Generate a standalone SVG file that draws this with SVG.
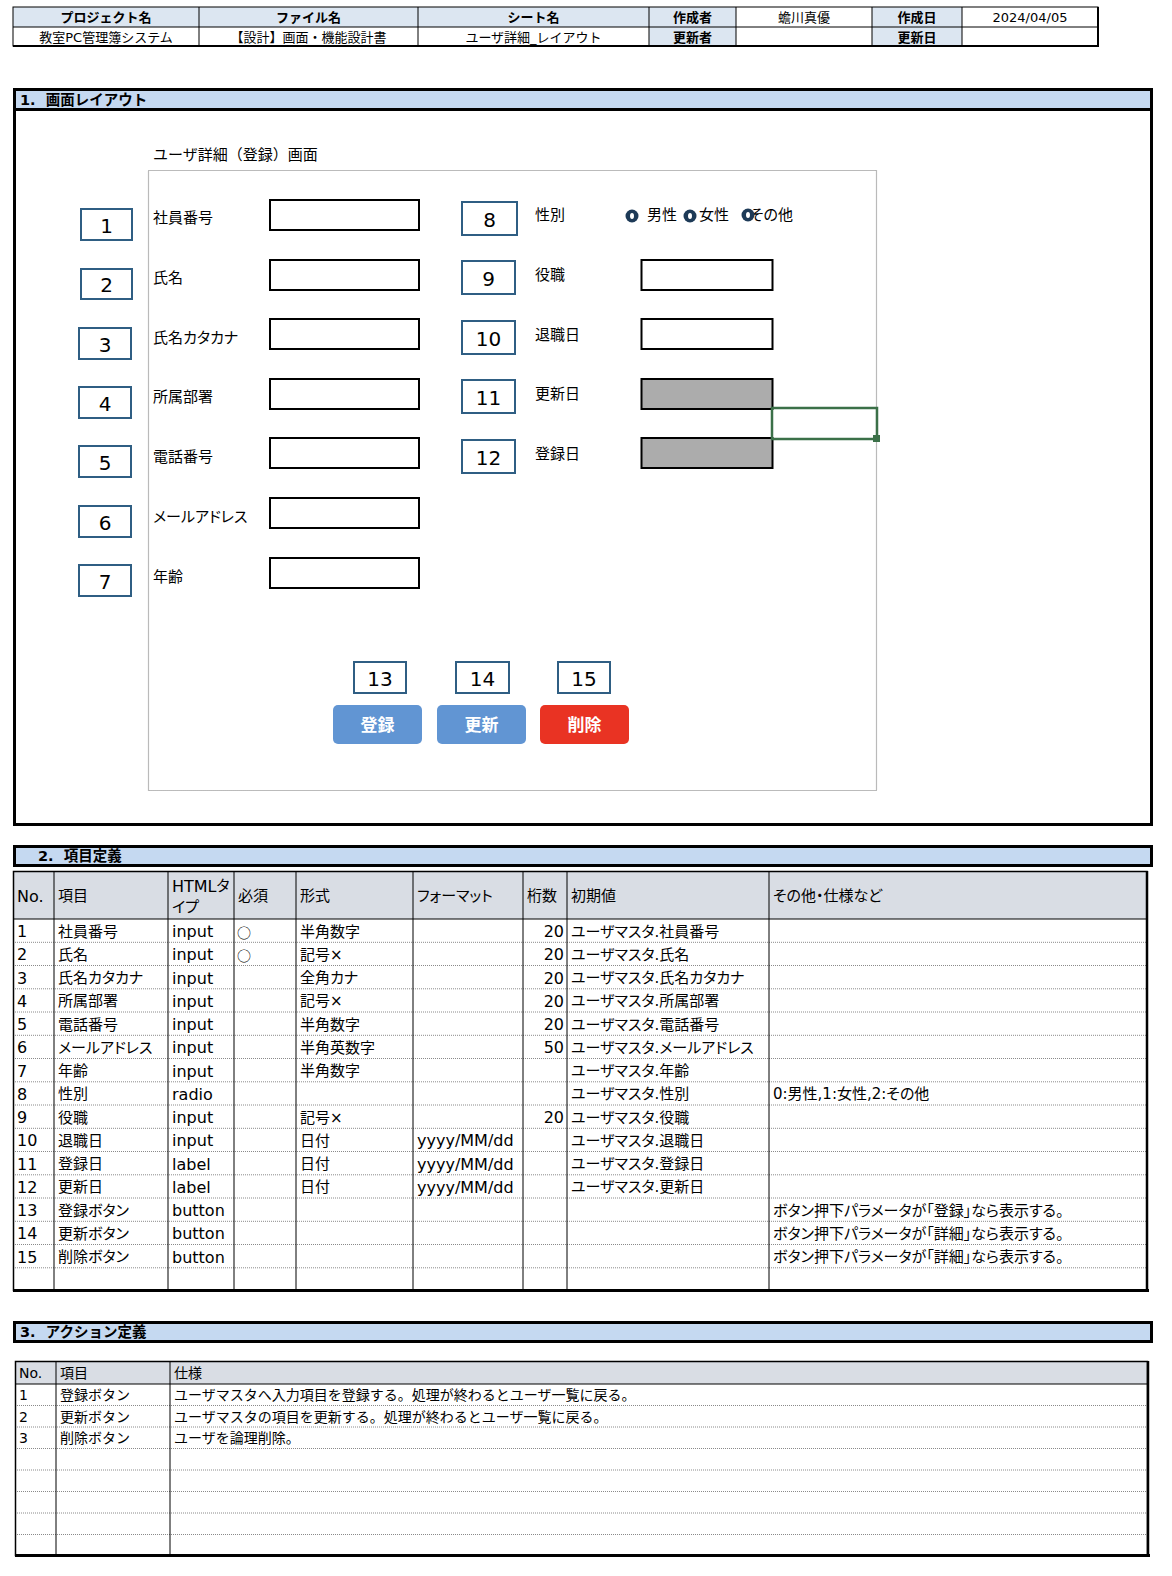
<svg xmlns="http://www.w3.org/2000/svg" width="1172" height="1576" viewBox="0 0 1172 1576">
<style>
text{font-family:"DejaVu Sans","Noto Sans CJK JP",sans-serif;fill:#000;dominant-baseline:central}
.h{font-size:13px}
.hb{font-size:13px;font-weight:bold}
.sec{font-size:14.5px;font-weight:bold}
.lbl{font-size:15px;font-feature-settings:"palt"}
.ttl{font-size:15px}
.num{font-size:20px;text-anchor:middle}
.btn{font-size:17px;font-weight:bold;fill:#fff;text-anchor:middle}
.t2 text{font-size:15px;font-feature-settings:"palt"}
.t2 text.lat{font-size:16px}
.t2 text.mk{font-family:"Noto Sans CJK JP",sans-serif;font-size:14px}
.t3 text{font-size:14px}
.c{text-anchor:middle}
.t2 text.r{text-anchor:end}
.grid{stroke:#000;stroke-width:1;fill:none}
.dot{stroke:#8a8a8a;stroke-width:1;stroke-dasharray:1 1;fill:none}
.nbox{fill:#fff;stroke:#2f5e83;stroke-width:2}
.inp{fill:#fff;stroke:#000;stroke-width:2}
.inpg{fill:#acacac;stroke:#000;stroke-width:2}
.bar{fill:#c5d9f1;stroke:#000;stroke-width:3}
.hfill{fill:#dce6f1}
.thfill{fill:#d9dde4}
.radio{fill:#1d3a57}
</style>

<!-- Header info table -->
<g id="header-table">
  <rect x="13" y="7" width="636" height="20" class="hfill"/>
  <rect x="649" y="7" width="87" height="39" class="hfill"/>
  <rect x="872" y="7" width="90" height="39" class="hfill"/>
  <rect x="13" y="7" width="1085" height="39" class="grid"/>
  <line x1="13" y1="27" x2="1098" y2="27" class="grid"/>
  <line x1="199" y1="7" x2="199" y2="46" class="grid"/>
  <line x1="418" y1="7" x2="418" y2="46" class="grid"/>
  <line x1="649" y1="7" x2="649" y2="46" class="grid"/>
  <line x1="736" y1="7" x2="736" y2="46" class="grid"/>
  <line x1="872" y1="7" x2="872" y2="46" class="grid"/>
  <line x1="962" y1="7" x2="962" y2="46" class="grid"/>
  <line x1="13" y1="46" x2="1099" y2="46" stroke="#000" stroke-width="2"/>
  <line x1="1098" y1="7" x2="1098" y2="47" stroke="#000" stroke-width="2"/>
  <text x="106" y="17.5" class="hb c">プロジェクト名</text>
  <text x="308.5" y="17.5" class="hb c">ファイル名</text>
  <text x="533.5" y="17.5" class="hb c">シート名</text>
  <text x="692.5" y="17.5" class="hb c">作成者</text>
  <text x="804" y="17.5" class="h c">蟾川真優</text>
  <text x="917" y="17.5" class="hb c">作成日</text>
  <text x="1030" y="17.5" class="h c">2024/04/05</text>
  <text x="106" y="37" class="h c">教室PC管理簿システム</text>
  <text x="308.5" y="37" class="h c">【設計】画面・機能設計書</text>
  <text x="533.5" y="37" class="h c">ユーザ詳細_レイアウト</text>
  <text x="692.5" y="37" class="hb c">更新者</text>
  <text x="917" y="37" class="hb c">更新日</text>
</g>

<!-- Section 1 -->
<g id="section1">
  <rect x="14.5" y="89.5" width="1137" height="735" fill="#fff" stroke="#000" stroke-width="3"/>
  <rect x="14.5" y="89.5" width="1137" height="20" class="bar"/>
  <text x="20" y="99.5" class="sec" xml:space="preserve">1.  画面レイアウト</text>
  <text x="153" y="155" class="ttl">ユーザ詳細（登録）画面</text>
  <rect x="148.5" y="170.5" width="728" height="620" fill="none" stroke="#777" stroke-width="1.2" stroke-dasharray="1 1"/>
</g>

<g id="field-1">
  <rect x="81" y="209" width="51" height="31" class="nbox"/><text x="106.5" y="226" class="num">1</text>
  <text x="153" y="218" class="lbl">社員番号</text>
  <rect x="270" y="200" width="149" height="30" class="inp"/>
</g>
<g id="field-2">
  <rect x="81" y="269" width="51" height="30" class="nbox"/><text x="106.5" y="285" class="num">2</text>
  <text x="153" y="278" class="lbl">氏名</text>
  <rect x="270" y="260" width="149" height="30" class="inp"/>
</g>
<g id="field-3">
  <rect x="79" y="328" width="52" height="31" class="nbox"/><text x="105" y="345" class="num">3</text>
  <text x="153" y="338" class="lbl">氏名カタカナ</text>
  <rect x="270" y="319" width="149" height="30" class="inp"/>
</g>
<g id="field-4">
  <rect x="79" y="387" width="52" height="31" class="nbox"/><text x="105" y="404" class="num">4</text>
  <text x="153" y="397" class="lbl">所属部署</text>
  <rect x="270" y="379" width="149" height="30" class="inp"/>
</g>
<g id="field-5">
  <rect x="79" y="446" width="52" height="31" class="nbox"/><text x="105" y="463" class="num">5</text>
  <text x="153" y="457" class="lbl">電話番号</text>
  <rect x="270" y="438" width="149" height="30" class="inp"/>
</g>
<g id="field-6">
  <rect x="79" y="506" width="52" height="31" class="nbox"/><text x="105" y="523" class="num">6</text>
  <text x="153" y="517" class="lbl">メールアドレス</text>
  <rect x="270" y="498" width="149" height="30" class="inp"/>
</g>
<g id="field-7">
  <rect x="79" y="565" width="52" height="31" class="nbox"/><text x="105" y="582" class="num">7</text>
  <text x="153" y="577" class="lbl">年齢</text>
  <rect x="270" y="558" width="149" height="30" class="inp"/>
</g>

<g id="field-8">
  <rect x="462" y="202" width="55" height="33" class="nbox"/><text x="489.5" y="220" class="num">8</text>
  <text x="535" y="215" class="lbl">性別</text>
  <text x="647" y="215" class="lbl">男性</text>
  <text x="699" y="215" class="lbl">女性</text>
  <text x="750" y="215" class="lbl">その他</text>
  <circle cx="632" cy="216" r="6.5" class="radio"/><ellipse cx="632" cy="216" rx="2" ry="3" fill="#fff"/>
  <circle cx="690" cy="216" r="6.5" class="radio"/><ellipse cx="690" cy="216" rx="2" ry="3" fill="#fff"/>
  <circle cx="748" cy="215" r="6.5" class="radio"/><ellipse cx="748" cy="215" rx="2" ry="3" fill="#fff"/>
</g>
<g id="field-9">
  <rect x="462" y="261" width="53" height="33" class="nbox"/><text x="488.5" y="279" class="num">9</text>
  <text x="535" y="275" class="lbl">役職</text>
  <rect x="641.5" y="260" width="131" height="30" class="inp"/>
</g>
<g id="field-10">
  <rect x="462" y="321" width="53" height="33" class="nbox"/><text x="488.5" y="339" class="num">10</text>
  <text x="535" y="335" class="lbl">退職日</text>
  <rect x="641.5" y="319" width="131" height="30" class="inp"/>
</g>
<g id="field-11">
  <rect x="462" y="380" width="53" height="33" class="nbox"/><text x="488.5" y="398" class="num">11</text>
  <text x="535" y="394" class="lbl">更新日</text>
  <rect x="641.5" y="379" width="131" height="30" class="inpg"/>
</g>
<g id="field-12">
  <rect x="462" y="440" width="53" height="33" class="nbox"/><text x="488.5" y="458" class="num">12</text>
  <text x="535" y="454" class="lbl">登録日</text>
  <rect x="641.5" y="438" width="131" height="30" class="inpg"/>
</g>

<g id="selection">
  <rect x="772" y="408" width="105" height="31" fill="none" stroke="#3b7048" stroke-width="2.5"/>
  <rect x="873" y="435" width="7" height="7" fill="#3b7048"/>
</g>

<g id="button-13">
  <rect x="354" y="662" width="52" height="31" class="nbox"/><text x="380" y="679" class="num">13</text>
  <rect x="333" y="705" width="89" height="39" rx="5" fill="#6195d3"/>
  <text x="377.5" y="725" class="btn">登録</text>
</g>
<g id="button-14">
  <rect x="456" y="662" width="53" height="31" class="nbox"/><text x="482.5" y="679" class="num">14</text>
  <rect x="437" y="705" width="89" height="39" rx="5" fill="#6195d3"/>
  <text x="481.5" y="725" class="btn">更新</text>
</g>
<g id="button-15">
  <rect x="558" y="662" width="52" height="31" class="nbox"/><text x="584" y="679" class="num">15</text>
  <rect x="540" y="705" width="89" height="39" rx="5" fill="#e93323"/>
  <text x="584.5" y="725" class="btn">削除</text>
</g>

<!-- Section 2 -->
<g id="section2">
  <rect x="14.5" y="846.5" width="1137" height="19" class="bar"/>
  <text x="38" y="856" class="sec" xml:space="preserve">2.  項目定義</text>
</g>

<g id="table2">
  <rect x="13" y="871" width="1134" height="48" class="thfill"/>
  <rect x="13" y="919" width="1134" height="372" fill="#fff"/>
  <g class="dot">
    <line x1="13" y1="942.3" x2="1147" y2="942.3"/>
    <line x1="13" y1="965.5" x2="1147" y2="965.5"/>
    <line x1="13" y1="988.8" x2="1147" y2="988.8"/>
    <line x1="13" y1="1012" x2="1147" y2="1012"/>
    <line x1="13" y1="1035.3" x2="1147" y2="1035.3"/>
    <line x1="13" y1="1058.5" x2="1147" y2="1058.5"/>
    <line x1="13" y1="1081.8" x2="1147" y2="1081.8"/>
    <line x1="13" y1="1105" x2="1147" y2="1105"/>
    <line x1="13" y1="1128.3" x2="1147" y2="1128.3"/>
    <line x1="13" y1="1151.5" x2="1147" y2="1151.5"/>
    <line x1="13" y1="1174.8" x2="1147" y2="1174.8"/>
    <line x1="13" y1="1198" x2="1147" y2="1198"/>
    <line x1="13" y1="1221.3" x2="1147" y2="1221.3"/>
    <line x1="13" y1="1244.5" x2="1147" y2="1244.5"/>
    <line x1="13" y1="1267.8" x2="1147" y2="1267.8"/>
  </g>
  <g class="grid">
    <line x1="13" y1="919" x2="1147" y2="919"/>
    <line x1="54" y1="871" x2="54" y2="1291"/>
    <line x1="168" y1="871" x2="168" y2="1291"/>
    <line x1="234" y1="871" x2="234" y2="1291"/>
    <line x1="296" y1="871" x2="296" y2="1291"/>
    <line x1="413" y1="871" x2="413" y2="1291"/>
    <line x1="523" y1="871" x2="523" y2="1291"/>
    <line x1="567" y1="871" x2="567" y2="1291"/>
    <line x1="769" y1="871" x2="769" y2="1291"/>
  </g>
  <rect x="13.5" y="871.5" width="1133.5" height="419" fill="none" stroke="#000" stroke-width="1.5"/>
  <line x1="13" y1="1290.5" x2="1149" y2="1290.5" stroke="#000" stroke-width="3"/>
  <line x1="1147" y1="871" x2="1147" y2="1291" stroke="#000" stroke-width="2.5"/>

  <g class="t2">
    <text x="17" y="896" class="lat">No.</text>
    <text x="58" y="896">項目</text>
    <text x="172" y="886"><tspan style="font-size:16px">HTML</tspan>タ</text>
    <text x="172" y="907">イプ</text>
    <text x="238" y="896">必須</text>
    <text x="300" y="896">形式</text>
    <text x="417" y="896">フォーマット</text>
    <text x="527" y="896">桁数</text>
    <text x="571" y="896">初期値</text>
    <text x="773" y="896">その他・仕様など</text>

    <text x="17" y="931.5" class="lat">1</text><text x="58" y="931.5">社員番号</text><text x="172" y="931.5" class="lat">input</text><text x="237" y="931.5" class="mk">○</text><text x="300" y="931.5">半角数字</text><text x="564" y="931.5" class="lat r">20</text><text x="571" y="931.5">ユーザマスタ.社員番号</text>
    <text x="17" y="954.8" class="lat">2</text><text x="58" y="954.8">氏名</text><text x="172" y="954.8" class="lat">input</text><text x="237" y="954.8" class="mk">○</text><text x="300" y="954.8">記号×</text><text x="564" y="954.8" class="lat r">20</text><text x="571" y="954.8">ユーザマスタ.氏名</text>
    <text x="17" y="978" class="lat">3</text><text x="58" y="978">氏名カタカナ</text><text x="172" y="978" class="lat">input</text><text x="300" y="978">全角カナ</text><text x="564" y="978" class="lat r">20</text><text x="571" y="978">ユーザマスタ.氏名カタカナ</text>
    <text x="17" y="1001.3" class="lat">4</text><text x="58" y="1001.3">所属部署</text><text x="172" y="1001.3" class="lat">input</text><text x="300" y="1001.3">記号×</text><text x="564" y="1001.3" class="lat r">20</text><text x="571" y="1001.3">ユーザマスタ.所属部署</text>
    <text x="17" y="1024.5" class="lat">5</text><text x="58" y="1024.5">電話番号</text><text x="172" y="1024.5" class="lat">input</text><text x="300" y="1024.5">半角数字</text><text x="564" y="1024.5" class="lat r">20</text><text x="571" y="1024.5">ユーザマスタ.電話番号</text>
    <text x="17" y="1047.8" class="lat">6</text><text x="58" y="1047.8">メールアドレス</text><text x="172" y="1047.8" class="lat">input</text><text x="300" y="1047.8">半角英数字</text><text x="564" y="1047.8" class="lat r">50</text><text x="571" y="1047.8">ユーザマスタ.メールアドレス</text>
    <text x="17" y="1071" class="lat">7</text><text x="58" y="1071">年齢</text><text x="172" y="1071" class="lat">input</text><text x="300" y="1071">半角数字</text><text x="571" y="1071">ユーザマスタ.年齢</text>
    <text x="17" y="1094.3" class="lat">8</text><text x="58" y="1094.3">性別</text><text x="172" y="1094.3" class="lat">radio</text><text x="571" y="1094.3">ユーザマスタ.性別</text><text x="773" y="1094.3">0:男性,1:女性,2:その他</text>
    <text x="17" y="1117.5" class="lat">9</text><text x="58" y="1117.5">役職</text><text x="172" y="1117.5" class="lat">input</text><text x="300" y="1117.5">記号×</text><text x="564" y="1117.5" class="lat r">20</text><text x="571" y="1117.5">ユーザマスタ.役職</text>
    <text x="17" y="1140.8" class="lat">10</text><text x="58" y="1140.8">退職日</text><text x="172" y="1140.8" class="lat">input</text><text x="300" y="1140.8">日付</text><text x="417" y="1140.8" class="lat">yyyy/MM/dd</text><text x="571" y="1140.8">ユーザマスタ.退職日</text>
    <text x="17" y="1164" class="lat">11</text><text x="58" y="1164">登録日</text><text x="172" y="1164" class="lat">label</text><text x="300" y="1164">日付</text><text x="417" y="1164" class="lat">yyyy/MM/dd</text><text x="571" y="1164">ユーザマスタ.登録日</text>
    <text x="17" y="1187.3" class="lat">12</text><text x="58" y="1187.3">更新日</text><text x="172" y="1187.3" class="lat">label</text><text x="300" y="1187.3">日付</text><text x="417" y="1187.3" class="lat">yyyy/MM/dd</text><text x="571" y="1187.3">ユーザマスタ.更新日</text>
    <text x="17" y="1210.5" class="lat">13</text><text x="58" y="1210.5">登録ボタン</text><text x="172" y="1210.5" class="lat">button</text><text x="773" y="1210.5">ボタン押下パラメータが「登録」なら表示する。</text>
    <text x="17" y="1233.8" class="lat">14</text><text x="58" y="1233.8">更新ボタン</text><text x="172" y="1233.8" class="lat">button</text><text x="773" y="1233.8">ボタン押下パラメータが「詳細」なら表示する。</text>
    <text x="17" y="1257" class="lat">15</text><text x="58" y="1257">削除ボタン</text><text x="172" y="1257" class="lat">button</text><text x="773" y="1257">ボタン押下パラメータが「詳細」なら表示する。</text>
  </g>
</g>

<!-- Section 3 -->
<g id="section3">
  <rect x="14.5" y="1322.5" width="1137" height="19" class="bar"/>
  <text x="20" y="1332" class="sec" xml:space="preserve">3.  アクション定義</text>
</g>

<g id="table3">
  <rect x="15" y="1361" width="1133" height="23" class="thfill"/>
  <rect x="15" y="1384" width="1133" height="171" fill="#fff"/>
  <g class="dot">
    <line x1="15" y1="1405.5" x2="1148" y2="1405.5"/>
    <line x1="15" y1="1427" x2="1148" y2="1427"/>
    <line x1="15" y1="1448.5" x2="1148" y2="1448.5"/>
    <line x1="15" y1="1470" x2="1148" y2="1470"/>
    <line x1="15" y1="1491.5" x2="1148" y2="1491.5"/>
    <line x1="15" y1="1513" x2="1148" y2="1513"/>
    <line x1="15" y1="1534.5" x2="1148" y2="1534.5"/>
  </g>
  <g class="grid">
    <line x1="15" y1="1384" x2="1148" y2="1384"/>
    <line x1="56" y1="1361" x2="56" y2="1556"/>
    <line x1="170" y1="1361" x2="170" y2="1556"/>
  </g>
  <rect x="15.5" y="1361.5" width="1132" height="194" fill="none" stroke="#000" stroke-width="1.5"/>
  <line x1="15" y1="1555.5" x2="1150" y2="1555.5" stroke="#000" stroke-width="3"/>
  <line x1="1148" y1="1361" x2="1148" y2="1556" stroke="#000" stroke-width="2.5"/>
  <g class="t3">
    <text x="19" y="1373">No.</text>
    <text x="60" y="1373">項目</text>
    <text x="174" y="1373">仕様</text>
    <text x="19" y="1395">1</text><text x="60" y="1395">登録ボタン</text><text x="174" y="1395">ユーザマスタへ入力項目を登録する。処理が終わるとユーザ一覧に戻る。</text>
    <text x="19" y="1416.5">2</text><text x="60" y="1416.5">更新ボタン</text><text x="174" y="1416.5">ユーザマスタの項目を更新する。処理が終わるとユーザ一覧に戻る。</text>
    <text x="19" y="1438">3</text><text x="60" y="1438">削除ボタン</text><text x="174" y="1438">ユーザを論理削除。</text>
  </g>
</g>
</svg>
